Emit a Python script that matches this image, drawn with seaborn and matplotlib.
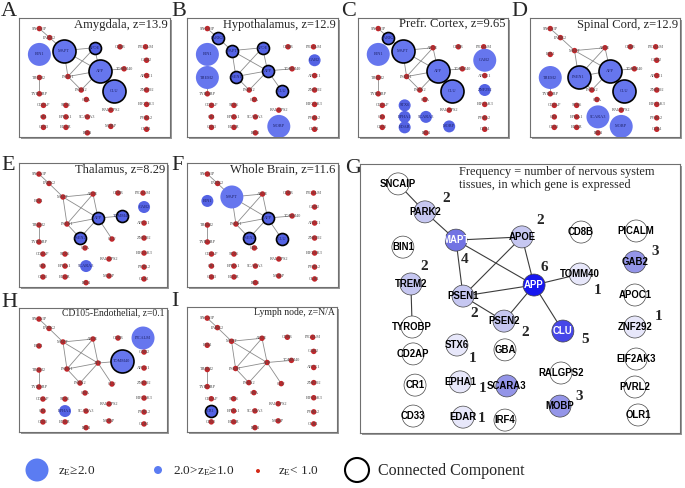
"""Gene network panels across tissues, with a frequency summary panel."""

import matplotlib

matplotlib.use("Agg")

import matplotlib.pyplot as plt
import pandas as pd
import seaborn as sns
from matplotlib.patches import Rectangle


FIG_W, FIG_H, DPI = 685, 488, 100

# ---- data -----------------------------------------------------------------
GENES = [
    "SNCAIP", "PARK2", "BIN1", "MAPT", "APOE", "CD8B", "PICALM", "GAB2",
    "TREM2", "PSEN1", "APP", "TOMM40", "APOC1", "PSEN2", "CLU", "ZNF292",
    "TYROBP", "CD2AP", "STX6", "GBA", "EIF2AK3", "RALGPS2", "CR1", "EPHA1",
    "SCARA3", "PVRL2", "CD33", "EDAR", "MOBP", "IRF4", "OLR1",
]

EDGES = [
    ("SNCAIP", "PARK2"), ("PARK2", "MAPT"), ("MAPT", "APOE"), ("MAPT", "PSEN1"),
    ("MAPT", "APP"), ("APOE", "PSEN1"), ("APOE", "APP"), ("APP", "PSEN1"),
    ("APP", "TOMM40"), ("APP", "PSEN2"), ("APP", "CLU"), ("PSEN1", "PSEN2"),
    ("TREM2", "TYROBP"),
]

PANEL_IDS = ["A", "B", "C", "D", "E", "F", "H", "I"]
PANEL_TITLES = [
    "Amygdala, z=13.9", "Hypothalamus, z=12.9", "Prefr. Cortex, z=9.65",
    "Spinal Cord, z=12.9", "Thalamus, z=8.29", "Whole Brain, z=11.6",
    "CD105-Endothelial, z=0.1", "Lymph node, z=N/A",
]

# z_E >= 2.0
BIG_NODES = {
    "A": ["MAPT", "BIN1", "APP", "CLU"],
    "B": ["BIN1", "TREM2", "MOBP"],
    "C": ["BIN1", "MAPT", "APP", "CLU", "GAB2"],
    "D": ["PSEN1", "APP", "CLU", "TREM2", "SCARA3", "MOBP"],
    "E": [],
    "F": ["MAPT"],
    "H": ["PICALM", "TOMM40"],
    "I": [],
}
# 2.0 > z_E >= 1.0
MID_NODES = {
    "A": ["APOE"],
    "B": ["PARK2", "MAPT", "APOE", "PSEN1", "APP", "CLU", "GAB2"],
    "C": ["PARK2", "ZNF292", "STX6", "EPHA1", "SCARA3", "EDAR", "MOBP"],
    "D": [],
    "E": ["APP", "TOMM40", "PSEN2", "GAB2", "SCARA3"],
    "F": ["BIN1", "APP", "PSEN2", "CLU"],
    "H": ["EPHA1"],
    "I": ["CR1"],
}
CONNECTED_NODES = {
    "A": ["MAPT", "APOE", "APP", "CLU"],
    "B": ["PARK2", "MAPT", "APOE", "PSEN1", "APP", "CLU"],
    "C": ["PARK2", "MAPT", "APP", "CLU"],
    "D": ["PSEN1", "APP", "CLU"],
    "E": ["APP", "TOMM40", "PSEN2"],
    "F": ["APP", "PSEN2", "CLU"],
    "H": ["TOMM40"],
    "I": ["CR1"],
}

G_FREQUENCY = {
    "PARK2": 2, "APOE": 2, "MAPT": 4, "APP": 6, "GAB2": 3, "TREM2": 2,
    "TOMM40": 1, "PSEN1": 2, "PSEN2": 2, "CLU": 5, "ZNF292": 1, "STX6": 1,
    "EPHA1": 1, "EDAR": 1, "MOBP": 3, "SCARA3": 3,
}
G_NOTE = "Frequency = number of nervous system\ntissues, in which gene is expressed"

LEGEND_TEXTS = [
    r"z$_\mathrm{E}$≥2.0", r"2.0>z$_\mathrm{E}$≥1.0", r"z$_\mathrm{E}$< 1.0",
    "Connected Component",
]

# ---- layout ---------------------------------------------------------------
SMALL_LAYOUT = {
    "SNCAIP": (0.135, 0.089), "PARK2": (0.203, 0.165), "BIN1": (0.135, 0.306),
    "MAPT": (0.297, 0.274), "APOE": (0.500, 0.250), "CD8B": (0.669, 0.242),
    "PICALM": (0.838, 0.242), "GAB2": (0.845, 0.355), "TREM2": (0.135, 0.500),
    "PSEN1": (0.324, 0.492), "APP": (0.534, 0.444), "TOMM40": (0.696, 0.427),
    "APOC1": (0.845, 0.484), "PSEN2": (0.412, 0.605), "CLU": (0.628, 0.613),
    "ZNF292": (0.845, 0.605), "TYROBP": (0.135, 0.637), "CD2AP": (0.162, 0.734),
    "STX6": (0.311, 0.734), "GBA": (0.446, 0.685), "EIF2AK3": (0.845, 0.726),
    "RALGPS2": (0.608, 0.774), "CR1": (0.162, 0.831), "EPHA1": (0.311, 0.831),
    "SCARA3": (0.453, 0.831), "PVRL2": (0.845, 0.839), "CD33": (0.162, 0.919),
    "EDAR": (0.311, 0.919), "MOBP": (0.608, 0.911), "IRF4": (0.453, 0.965),
    "OLR1": (0.845, 0.935),
}

G_LAYOUT = {
    "SNCAIP": (0.119, 0.074), "PARK2": (0.203, 0.178), "MAPT": (0.300, 0.283),
    "APOE": (0.506, 0.271), "CD8B": (0.691, 0.253), "PICALM": (0.863, 0.249),
    "BIN1": (0.134, 0.309), "GAB2": (0.859, 0.364), "TREM2": (0.159, 0.446),
    "APP": (0.544, 0.450), "TOMM40": (0.688, 0.409), "PSEN1": (0.322, 0.491),
    "APOC1": (0.859, 0.487), "PSEN2": (0.450, 0.584), "CLU": (0.634, 0.621),
    "ZNF292": (0.859, 0.606), "TYROBP": (0.163, 0.606), "STX6": (0.303, 0.673),
    "GBA": (0.453, 0.691), "CD2AP": (0.166, 0.706), "EIF2AK3": (0.863, 0.725),
    "RALGPS2": (0.628, 0.777), "CR1": (0.172, 0.822), "EPHA1": (0.313, 0.810),
    "SCARA3": (0.459, 0.825), "PVRL2": (0.859, 0.829), "MOBP": (0.625, 0.900),
    "CD33": (0.166, 0.937), "EDAR": (0.322, 0.941), "IRF4": (0.453, 0.952),
    "OLR1": (0.869, 0.933),
}

# pixel offsets of the frequency numbers from their node (right, down)
FREQ_OFFSETS = {
    "PARK2": (21, -13), "APOE": (18, -16), "MAPT": (9, 19), "APP": (10, -18),
    "GAB2": (20, -10), "TREM2": (13, -17), "TOMM40": (17, 16), "PSEN1": (11, 17),
    "PSEN2": (21, 11), "CLU": (22, 8), "ZNF292": (24, -11), "STX6": (16, 13),
    "EPHA1": (22, 7), "EDAR": (19, 1), "MOBP": (19, -10),
}

# panel boxes in pixels: left, top, right, bottom
PANEL_BOXES = {
    "A": (19, 18, 170, 137), "B": (187, 18, 338, 137),
    "C": (358, 18, 508, 137), "D": (530, 18, 680, 137),
    "E": (19, 163, 167, 287), "F": (187, 163, 338, 287),
    "H": (19, 308, 167, 432), "I": (187, 307, 337, 432),
    "G": (360, 164, 680, 433),
}
TITLE_SIZES = {
    "A": 9.1, "B": 8.9, "C": 9.1, "D": 9.0, "E": 9.0, "F": 9.1, "H": 6.9, "I": 7.0,
}
LETTER_POS = {
    "A": (1, 2), "B": (171, 2), "C": (341, 2), "D": (511, 2),
    "E": (1, 156), "F": (171, 156), "G": (345, 159), "H": (1, 293), "I": (171, 292),
}

BIG_COLOR = "#6676ee"
MID_COLOR = "#5463e4"
RED = "#c1272b"
FREQ_COLORS = {
    0: "#ffffff", 1: "#e7e7fa", 2: "#c6c7f1", 3: "#9495e8",
    4: "#7273e3", 5: "#4646e8", 6: "#1717ef",
}
SERIF = ["Liberation Serif", "DejaVu Serif"]


def px_size(diameter):
    # scatter marker area in points^2 for a diameter in pixels
    return (diameter * 72 / DPI) ** 2


def to_rect(box):
    left, top, right, bottom = box
    return [left / FIG_W, 1 - bottom / FIG_H, (right - left) / FIG_W, (bottom - top) / FIG_H]


def node_table(layout):
    return pd.DataFrame({
        "gene": GENES,
        "x": [layout[g][0] for g in GENES],
        "y": [layout[g][1] for g in GENES],
    })


def style_box(ax):
    ax.set_xlim(0, 1)
    ax.set_ylim(1, 0)
    ax.set(xlabel="", ylabel="", xticks=[], yticks=[])
    for spine in ax.spines.values():
        spine.set_visible(True)
        spine.set_color("#707070")
        spine.set_linewidth(0.8)


def draw_edges(ax, layout, color, lw):
    for a, b in EDGES:
        ax.plot([layout[a][0], layout[b][0]], [layout[a][1], layout[b][1]],
                color=color, lw=lw, zorder=1)


def draw_small_panel(ax, panel_id, title):
    nodes = node_table(SMALL_LAYOUT)
    big = set(BIG_NODES[panel_id])
    mid = set(MID_NODES[panel_id])
    linked = set(CONNECTED_NODES[panel_id])
    nodes["level"] = ["big" if g in big else "mid" if g in mid else "small" for g in GENES]
    nodes["linked"] = [g in linked for g in GENES]

    draw_edges(ax, SMALL_LAYOUT, "#8c8c8c", 0.6)

    sns.scatterplot(data=nodes[nodes.level == "small"], x="x", y="y", ax=ax,
                    color=RED, s=px_size(5.5), edgecolor="none", zorder=3)
    for level, diam, color in [("big", 23, BIG_COLOR), ("mid", 12, MID_COLOR)]:
        for linked_flag in [False, True]:
            part = nodes[(nodes.level == level) & (nodes.linked == linked_flag)]
            if part.empty:
                continue
            sns.scatterplot(
                data=part, x="x", y="y", ax=ax, color=color, s=px_size(diam),
                edgecolor="black" if linked_flag else "none",
                linewidth=1.2 if linked_flag else 0, zorder=3,
            )

    for _, row in nodes.iterrows():
        text_color = "#1e2266" if row.level != "small" else "#4a4a4a"
        ax.text(row.x, row.y, row.gene, fontsize=3.1, color=text_color,
                ha="center", va="center", zorder=4)

    ax.text(0.985, 0.995, title, transform=ax.transAxes, ha="right", va="top",
            fontsize=TITLE_SIZES[panel_id], family=SERIF, zorder=5)
    style_box(ax)


def draw_frequency_panel(ax):
    nodes = node_table(G_LAYOUT)
    nodes["freq"] = [G_FREQUENCY.get(g, 0) for g in GENES]

    draw_edges(ax, G_LAYOUT, "#3c3c3c", 0.8)
    sns.scatterplot(data=nodes, x="x", y="y", hue="freq", palette=FREQ_COLORS,
                    s=px_size(22), edgecolor="#444444", linewidth=0.5,
                    legend=False, ax=ax, zorder=3)

    for _, row in nodes.iterrows():
        text_color = "white" if row.freq >= 4 else "black"
        ax.text(row.x, row.y, row.gene, fontsize=6.9, fontweight="bold",
                family=["Liberation Sans", "DejaVu Sans"], color=text_color,
                ha="center", va="center", zorder=4)

    for gene, (dx, dy) in FREQ_OFFSETS.items():
        x, y = G_LAYOUT[gene]
        ax.annotate(str(G_FREQUENCY[gene]), xy=(x, y),
                    xytext=(dx * 72 / DPI, -dy * 72 / DPI), textcoords="offset points",
                    ha="center", va="center", fontsize=11, fontweight="bold",
                    family=SERIF, zorder=5)

    ax.text(0.31, 0.992, G_NOTE, transform=ax.transAxes, ha="left", va="top",
            fontsize=8.8, family=SERIF, linespacing=1.1)
    style_box(ax)


def draw_overlay(ax):
    ax.set_xlim(0, FIG_W)
    ax.set_ylim(FIG_H, 0)
    ax.axis("off")

    for panel_id, (left, top, right, bottom) in PANEL_BOXES.items():
        ax.add_patch(Rectangle((left + 2, top + 2), right - left, bottom - top,
                               color="#9a9a9a", lw=0, zorder=0))
    for letter, (x, y) in LETTER_POS.items():
        ax.text(x, y, letter, fontsize=16, family=SERIF, ha="left", va="top")

    legend = pd.DataFrame({"x": [37, 158, 258, 357], "y": [470, 470, 471, 470]})
    sns.scatterplot(data=legend.iloc[[0]], x="x", y="y", ax=ax, color="#5b7cf2",
                    s=px_size(23), edgecolor="none")
    sns.scatterplot(data=legend.iloc[[1]], x="x", y="y", ax=ax, color="#5b7cf2",
                    s=px_size(8), edgecolor="none")
    sns.scatterplot(data=legend.iloc[[2]], x="x", y="y", ax=ax, color="#d42a18",
                    s=px_size(4), edgecolor="none")
    sns.scatterplot(data=legend.iloc[[3]], x="x", y="y", ax=ax, color="none",
                    s=px_size(24), edgecolor="black", linewidth=1.5)
    ax.set(xlabel="", ylabel="")

    text_x = [58, 173, 278, 378]
    text_size = [9.5, 9.5, 9.5, 11.5]
    for x, label, size in zip(text_x, LEGEND_TEXTS, text_size):
        ax.text(x, 471, label, fontsize=size, family=SERIF, ha="left", va="center")


def main():
    sns.set_style("white")
    plt.rcParams["font.family"] = SERIF
    plt.rcParams["mathtext.fontset"] = "custom"
    plt.rcParams["mathtext.rm"] = "Liberation Serif"
    plt.rcParams["mathtext.it"] = "Liberation Serif:italic"

    fig = plt.figure(figsize=(FIG_W / DPI, FIG_H / DPI), dpi=DPI)
    overlay = fig.add_axes([0, 0, 1, 1])
    draw_overlay(overlay)

    for panel_id, title in zip(PANEL_IDS, PANEL_TITLES):
        ax = fig.add_axes(to_rect(PANEL_BOXES[panel_id]))
        draw_small_panel(ax, panel_id, title)

    ax_g = fig.add_axes(to_rect(PANEL_BOXES["G"]))
    draw_frequency_panel(ax_g)

    fig.savefig("out.png", dpi=DPI)
    plt.close(fig)


if __name__ == "__main__":
    main()
